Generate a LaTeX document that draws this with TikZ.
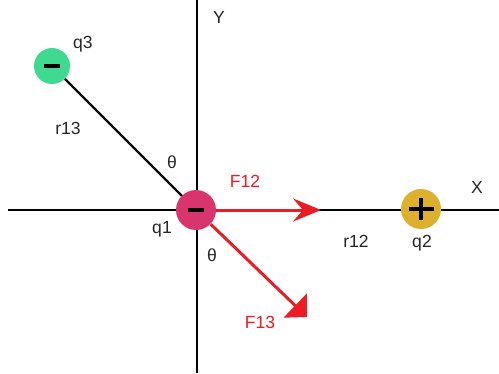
\documentclass[tikz,border=0pt]{standalone}
\usepackage{fontspec}
\setmainfont{Liberation Sans}
\usetikzlibrary{arrows.meta,positioning}
\definecolor{qOne}{HTML}{D8346E}
\definecolor{qTwo}{HTML}{DDB02E}
\definecolor{qThree}{HTML}{3FD98F}
\definecolor{fRed}{HTML}{EC1C24}
\tikzset{
  axis/.style={line width=1.4pt, draw=black},
  charge/.style={circle, inner sep=0pt},
  sign/.style={line width=2.2pt, draw=black},
  lbl/.style={font=\fontsize{10}{12}\selectfont, text=black!85},
  flbl/.style={font=\fontsize{10}{12}\selectfont, text=fRed},
  force/.style={line width=1.7pt, draw=fRed}
}

\begin{document}
\begin{tikzpicture}[x=0.02cm, y=-0.02cm]
  \useasboundingbox (0,0) rectangle (499,373);
  % axes
  \coordinate (xl) at (8,210);
  \coordinate (xr) at (499,210);
  \coordinate (yt) at (197,0);
  \coordinate (yb) at (197,373);
  \draw[axis] (xl) -- (xr);
  \draw[axis] (yt) -- (yb);
  \node[lbl] (xlab) at (477,187) {X};
  \node[lbl] (ylab) at (219,17) {Y};
  % charges
  \node[charge, fill=qThree, minimum size=0.72cm] (q3) at (52,66) {};
  \node[charge, fill=qTwo, minimum size=0.8cm] (q2) at (421,209) {};
  \draw[line width=1.4pt] (q3) -- (196,210);
  \node[charge, fill=qOne, minimum size=0.8cm] (q1) at (196,210) {};
  \draw[sign] ([xshift=-0.16cm]q3.center) -- ([xshift=0.16cm]q3.center);
  \draw[sign] ([xshift=-0.16cm]q1.center) -- ([xshift=0.16cm]q1.center);
  \draw[sign, line width=2.4pt] ([xshift=-0.25cm]q2.center) -- ([xshift=0.25cm]q2.center);
  \draw[sign, line width=2.4pt] ([yshift=-0.22cm]q2.center) -- ([yshift=0.22cm]q2.center);
  % forces
  \coordinate (f12end) at (321,210);
  \coordinate (f13end) at (307,317);
  \draw[force, -{Stealth[length=0.56cm, width=0.46cm, inset=0.2cm]}] (q1) -- (f12end);
  \draw[force, -{Triangle[length=0.33cm, width=0.66cm]}] (q1) -- (f13end);
  % labels
  \node[lbl] (q3lab) at (83,44) {q3};
  \node[lbl] (r13lab) at (68,128) {r13};
  \node[lbl] (th1) at (172,162) {θ};
  \node[lbl] (q1lab) at (162,229) {q1};
  \node[lbl] (th2) at (212,255) {θ};
  \node[lbl] (r12lab) at (356,241) {r12};
  \node[lbl] (q2lab) at (422,243) {q2};
  \node[flbl] (f12lab) at (245,181) {F12};
  \node[flbl] (f13lab) at (260,322) {F13};
\end{tikzpicture}
\end{document}
